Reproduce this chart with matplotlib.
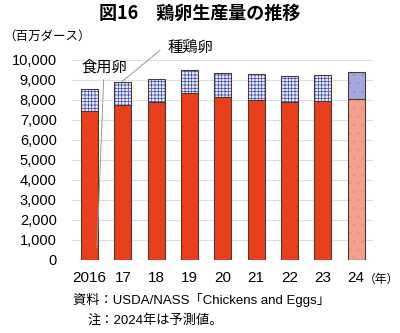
import matplotlib.pyplot as plt
import numpy as np

plt.rcParams['font.family'] = ['Liberation Sans', 'Noto Sans CJK JP', 'DejaVu Sans']
plt.rcParams['hatch.linewidth'] = 0.5

years = ['2016', '17', '18', '19', '20', '21', '22', '23', '24']
total = [8570, 8885, 9035, 9520, 9370, 9320, 9220, 9235, 9385]
table = [7435, 7735, 7870, 8335, 8150, 8020, 7885, 7920, 8070]
hatching = [t - s for t, s in zip(total, table)]

x = np.arange(len(years))
w = 0.51
jp = ['Noto Sans CJK JP', 'DejaVu Sans']

fig = plt.figure(figsize=(4, 3.33), dpi=100)
ax = fig.add_axes([0.18, 0.22, 0.752, 0.6])

red = ['#e8401c'] * 8 + ['#f4a08c']
blue = ['#e8ebfa'] * 8 + ['#a4a9dc']
hcol = ['#3c48b0'] * 8 + ['#8c90c8']
hpat = ['+++++'] * 8 + ['..']

for i in range(len(years)):
    ax.bar(x[i], table[i], w, color=red[i], edgecolor='#f08a72' if i == 8 else red[i],
           hatch='..' if i == 8 else None, linewidth=0, zorder=2)
    ax.bar(x[i], hatching[i], w, bottom=table[i], color=blue[i], edgecolor=hcol[i],
           hatch=hpat[i], linewidth=0, zorder=2)
    ax.bar(x[i], total[i], w, fill=False, edgecolor='#4a3a36', linewidth=0.8, zorder=3)
    ax.plot([x[i] - w / 2, x[i] + w / 2], [table[i]] * 2, color='#4a3a36', lw=0.8, zorder=3)

ax.set_ylim(0, 10000)
ax.set_xlim(-0.53, 8.5)
ax.set_yticks(np.arange(0, 10001, 1000))
ax.set_yticklabels([f'{v:,}' for v in range(0, 10001, 1000)], fontsize=10.5)
ax.set_xticks(x)
ax.set_xticklabels(years, fontsize=11)
ax.tick_params(length=0, pad=8)
ax.tick_params(axis='y', pad=11)
ax.grid(axis='y', color='#e0e0e0', lw=0.8, zorder=0)
for s in ax.spines.values():
    s.set_visible(False)

# leader lines
ax.plot([0.42, 0.22], [9000, 600], color='#999999', lw=0.7, zorder=4, clip_on=False)
ax.plot([2.11, 0.96], [10480, 8900], color='#999999', lw=0.7, zorder=4, clip_on=False)
ax.text(-0.25, 9650, '食用卵', fontsize=11, family=jp, ha='left', va='center')
ax.text(2.35, 10650, '種鶏卵', fontsize=11, family=jp, ha='left', va='center')

fig.text(0.5, 0.96, '図16　鶏卵生産量の推移', fontsize=13, fontweight='bold', family=jp,
         ha='center', va='center')
fig.text(0.008, 0.89, '（百万ダース）', fontsize=9, family=jp, ha='left', va='center')
fig.text(0.91, 0.162, '（年）', fontsize=8.5, family=jp, ha='left', va='center')
fig.text(0.183, 0.099, '資料：USDA/NASS「Chickens and Eggs」', fontsize=9.5, ha='left', va='center')
fig.text(0.22, 0.039, '注：2024年は予測値。', fontsize=9.5, ha='left', va='center')

fig.savefig('out.png', dpi=100)
